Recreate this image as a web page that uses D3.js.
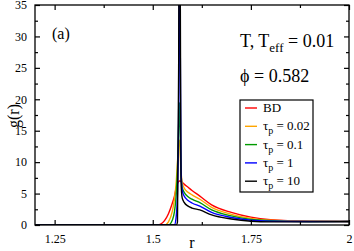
<!DOCTYPE html>
<html>
<head>
<meta charset="utf-8">
<script src="https://cdn.jsdelivr.net/npm/d3@7"></script>
<style>
  body { margin: 0; background: #fff; }
</style>
</head>
<body>
<div id="chartholder"></div>
<script>
// r grid shared by all curves
var rGrid = [1.20, 1.50, 1.51, 1.52, 1.53, 1.54, 1.55, 1.555, 1.56, 1.563, 1.566, 1.568, 1.570, 1.572, 1.575, 1.58, 1.59, 1.60, 1.62, 1.65, 1.70, 1.75, 1.80, 1.90, 2.00];

var gBD     = [0, 0, 0, 0.15, 0.7, 1.8, 3.5, 4.5, 6.0, 6.6, 6.9, 7.0, 7.0, 6.95, 6.8, 6.5, 6.0, 5.5, 4.6, 3.2, 2.0, 1.25, 0.85, 0.6, 0.55];
var gTau002 = [0, 0, 0, 0, 0, 0.5, 2.2, 4.0, 7.0, 10, 13, 13.5, 11, 8.5, 6.8, 5.9, 5.2, 4.8, 4.1, 2.8, 1.7, 1.05, 0.75, 0.6, 0.55];
var gTau01  = [0, 0, 0, 0, 0, 0, 0.8, 2.0, 5.0, 9, 16, 19.5, 14, 8.5, 6.0, 5.2, 4.5, 4.1, 3.55, 2.4, 1.45, 0.9, 0.7, 0.55, 0.55];
var gTau1   = [0, 0, 0, 0, 0, 0, 0, 0, 1.5, 5, 18, 45, 30, 9, 5.6, 4.6, 3.9, 3.5, 3.0, 2.0, 1.2, 0.75, 0.6, 0.55, 0.55];
var gTau10  = [0, 0, 0, 0, 0, 0, 0, 0, 0, 0.5, 25, 70, 40, 7, 4.3, 3.6, 3.0, 2.7, 2.4, 1.6, 0.95, 0.6, 0.5, 0.5, 0.55];

var seriesNames = ["BD", "0.02", "0.1", "1", "10"];
var seriesValues = [gBD, gTau002, gTau01, gTau1, gTau10];
var seriesColors = ["#ff0000", "#ffa500", "#009a00", "#0000ff", "#000000"];

var xTicks = [1.25, 1.5, 1.75, 2];
var xTickLabels = ["1.25", "1.5", "1.75", "2"];
var xMinorTicks = [1.375, 1.625, 1.875];
var yTicks = [0, 5, 10, 15, 20, 25, 30, 35];
var yMinorTicks = [2.5, 7.5, 12.5, 17.5, 22.5, 27.5, 32.5];

var svg = d3.select("#chartholder")
            .append("svg")
            .attr("width", 354)
            .attr("height", 251);

var margin = {top: 5, right: 5, bottom: 26, left: 35},
    width = svg.attr("width") - margin.left - margin.right,
    height = svg.attr("height") - margin.top - margin.bottom;

var g = svg.append("g")
           .attr("transform", "translate(" + margin.left + "," + margin.top + ")");

var x = d3.scaleLinear().domain([1.2, 2.0]).range([0, width]);
var y = d3.scaleLinear().domain([0, 35]).range([height, 0]);

g.append("clipPath").attr("id", "clip")
  .append("rect").attr("width", width).attr("height", height);

// curves
var line = d3.line()
  .x(function(d) { return x(d[0]); })
  .y(function(d) { return y(d[1]); })
  .curve(d3.curveMonotoneX);

seriesValues.forEach(function(vals, i) {
  var pts = rGrid.map(function(r, k) { return [r, vals[k]]; });
  g.append("path")
    .datum(pts)
    .attr("clip-path", "url(#clip)")
    .attr("fill", "none")
    .attr("stroke", seriesColors[i])
    .attr("stroke-width", 1.4)
    .attr("d", line);
});

// axes, ticks inward on all sides
function styleAxis(sel) {
  sel.attr("font-size", 12);
  sel.selectAll("line").attr("stroke", "#000").attr("stroke-width", 1.2);
  sel.selectAll("text").attr("fill", "#000");
}

g.append("g")
  .attr("transform", "translate(0," + height + ")")
  .call(d3.axisBottom(x).tickValues(xTicks).tickSizeInner(-5).tickSizeOuter(0).tickPadding(9)
        .tickFormat(function(d, i) { return xTickLabels[i]; }))
  .call(styleAxis);
g.append("g")
  .attr("transform", "translate(0," + height + ")")
  .call(d3.axisBottom(x).tickValues(xMinorTicks).tickSizeInner(-3).tickSizeOuter(0).tickFormat(""))
  .call(styleAxis);
g.append("g")
  .call(d3.axisTop(x).tickValues(xTicks).tickSizeInner(-5).tickSizeOuter(0).tickFormat(""))
  .call(styleAxis);
g.append("g")
  .call(d3.axisTop(x).tickValues(xMinorTicks).tickSizeInner(-3).tickSizeOuter(0).tickFormat(""))
  .call(styleAxis);

g.append("g")
  .call(d3.axisLeft(y).tickValues(yTicks).tickSizeInner(-5).tickSizeOuter(0).tickPadding(8))
  .call(styleAxis);
g.append("g")
  .call(d3.axisLeft(y).tickValues(yMinorTicks).tickSizeInner(-3).tickSizeOuter(0).tickFormat(""))
  .call(styleAxis);
g.append("g")
  .attr("transform", "translate(" + width + ",0)")
  .call(d3.axisRight(y).tickValues(yTicks).tickSizeInner(-5).tickSizeOuter(0).tickFormat(""))
  .call(styleAxis);
g.append("g")
  .attr("transform", "translate(" + width + ",0)")
  .call(d3.axisRight(y).tickValues(yMinorTicks).tickSizeInner(-3).tickSizeOuter(0).tickFormat(""))
  .call(styleAxis);
g.selectAll(".domain").remove();

// frame
g.append("rect").attr("width", width).attr("height", height)
  .attr("fill", "none").attr("stroke", "#000").attr("stroke-width", 1.3);

// axis titles
svg.append("text").attr("x", 192).attr("y", 248).attr("text-anchor", "middle")
  .attr("font-size", 16).text("r");
svg.append("text").attr("transform", "translate(19,116) rotate(-90)")
  .attr("text-anchor", "middle").attr("font-size", 16).text("g(r)");

// annotations
svg.append("text").attr("x", 52).attr("y", 39).attr("font-size", 16).text("(a)");

var t1 = svg.append("text").attr("x", 240).attr("y", 47).attr("font-size", 18);
t1.append("tspan").text("T, T");
t1.append("tspan").attr("dy", 5).attr("font-size", 13).text("eff");
t1.append("tspan").attr("dy", -5).text(" = 0.01");

svg.append("text").attr("x", 240).attr("y", 82).attr("font-size", 18).text("\u03d5 = 0.582");

// legend
var leg = svg.append("g").attr("transform", "translate(240,100)");
leg.append("rect").attr("width", 73).attr("height", 92)
  .attr("fill", "#fff").attr("stroke", "#000").attr("stroke-width", 1.2);
seriesNames.forEach(function(name, i) {
  var yy = 8 + i * 18.3;
  leg.append("line").attr("x1", 5).attr("x2", 17).attr("y1", yy).attr("y2", yy)
    .attr("stroke", seriesColors[i]).attr("stroke-width", 1.4);
  var t = leg.append("text").attr("x", 23).attr("y", yy + 4).attr("font-size", 13);
  if (i === 0) {
    t.text(name);
  } else {
    t.append("tspan").text("\u03c4");
    t.append("tspan").attr("dy", 4).attr("font-size", 10).text("p");
    t.append("tspan").attr("dy", -4).text(" = " + name);
  }
});

svg.selectAll("text").style("font-family", "'Liberation Serif'");
</script>
</body>
</html>
